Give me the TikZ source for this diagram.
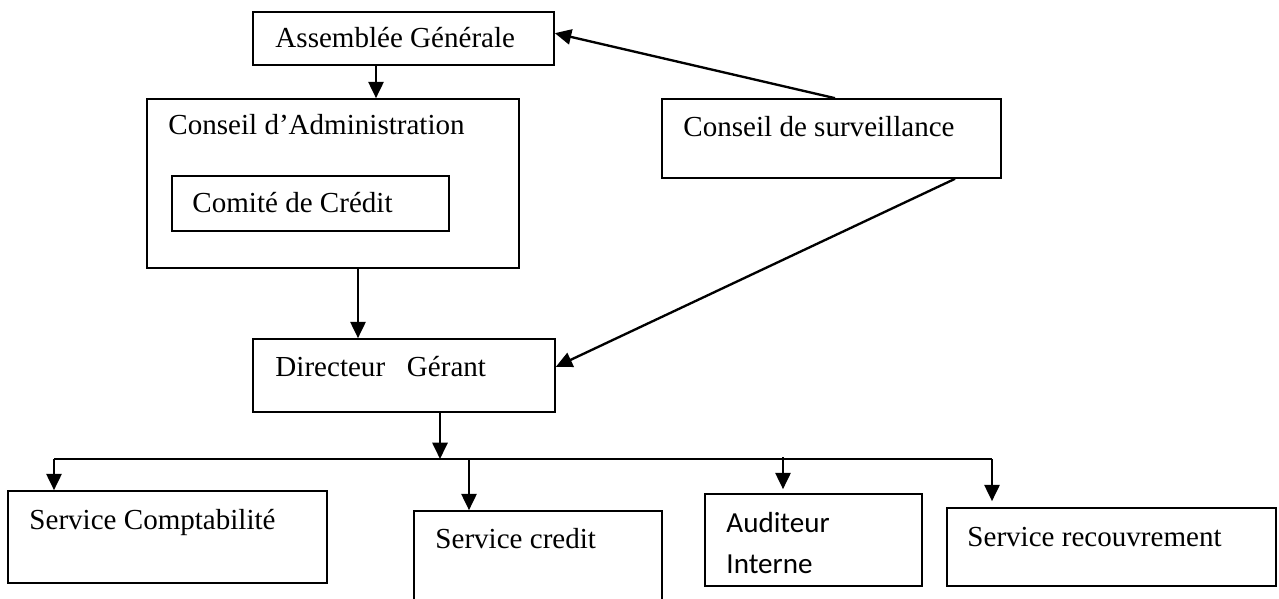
\documentclass[tikz,border=0pt]{standalone}
\usepackage{fontspec}
\setmainfont{Liberation Serif}
\newfontfamily\calibrifont{Carlito}
\usetikzlibrary{arrows.meta,fit}

\begin{document}
\begin{tikzpicture}[x=0.015cm, y=-0.015cm,
		box/.style = {draw, line width=0.7pt, inner sep=0pt},
		lbl/.style = {anchor=base west, inner sep=0pt, font=\fontsize{12.4}{15}\selectfont},
		lblsans/.style = {lbl, font=\calibrifont\fontsize{12.4}{15}\selectfont},
		link/.style = {line width=1pt, -{Triangle[length=7pt,width=6.5pt]}},
		busline/.style = {line width=0.7pt}]
		\clip (0,0) rectangle (1279,599);
		
		% top of the chart
		\node[box, fit={(253,12) (554,65)}] (ag) {};
		\node[box, fit={(147,99) (519,268)}] (ca) {};
		\node[box, fit={(172,176) (449,231)}] (cc) {};
		\node[box, fit={(662,99) (1001,178)}] (cs) {};
		\node[box, fit={(253,339) (555,412)}] (dg) {};
		
		% services
		\node[box, fit={(8,491) (327,583)}] (compta) {};
		\node[box, fit={(414,511) (662,610)}] (credit) {};
		\node[box, fit={(705,494) (922,586)}] (audit) {};
		\node[box, fit={(947,508) (1276,586)}] (recouv) {};
		
		\node[lbl] (agtxt) at (275,48) {Assemblée Générale};
		\node[lbl] (catxt) at (168,135) {Conseil d’Administration};
		\node[lbl] (cctxt) at (192,213) {Comité de Crédit};
		\node[lbl] (cstxt) at (683,137) {Conseil de surveillance};
		\node[lbl] (dgtxt) at (275,376) {Directeur\ \ \ Gérant};
		
		\node[lbl] (comptatxt) at (29,529) {Service Comptabilité};
		\node[lbl] (credittxt) at (435,548) {Service credit};
		\node[lblsans] (audittxt) at (726,532) {Auditeur};
		\node[lblsans] (audittxtb) at (726,573) {Interne};
		\node[lbl] (recouvtxt) at (967,546) {Service recouvrement};
		
		% columns of the links
		\coordinate (xag) at (376,0);
		\coordinate (xca) at (358,0);
		\coordinate (xcsa) at (835,0);
		\coordinate (xcsb) at (955,0);
		\coordinate (xdg) at (440,0);
		\coordinate (bus) at (0,459);
		\coordinate (xcompta) at (54,0);
		\coordinate (xcredit) at (469,0);
		\coordinate (xaudit) at (783,0);
		\coordinate (xrecouv) at (992,0);
		
		\draw[link] (ag.south -| xag) -- (ca.north -| xag);
		\draw[link] (ca.south -| xca) -- (dg.north -| xca);
		\draw[link] (cs.north -| xcsa) -- ([yshift=0.08cm]ag.east);
		\draw[link] (cs.south -| xcsb) -- ([yshift=0.13cm]dg.east);
		\draw[link] (dg.south -| xdg) -- (bus -| xdg);
		
		\draw[busline] (bus -| xcompta) -- (bus -| xrecouv);
		\draw[link] (bus -| xcompta) -- (compta.north -| xcompta);
		\draw[link] (bus -| xcredit) -- (credit.north -| xcredit);
		\draw[link] ([yshift=0.03cm]bus -| xaudit) -- ([yshift=0.06cm]audit.north -| xaudit);
		\draw[link] (bus -| xrecouv) -- ([yshift=0.09cm]recouv.north -| xrecouv);
\end{tikzpicture}
\end{document}
